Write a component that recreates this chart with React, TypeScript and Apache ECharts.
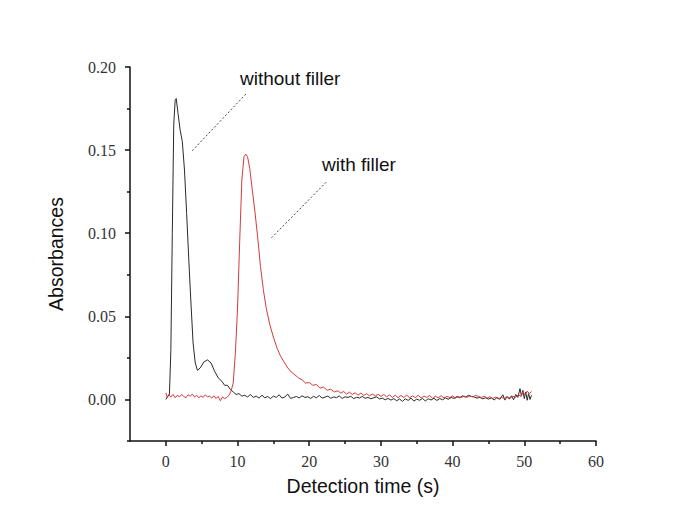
import React, { useEffect, useRef } from "react";
import * as echarts from "echarts";

const xLabels = [0, 10, 20, 30, 40, 50, 60];
const xMinor = [5, 15, 25, 35, 45, 55];
const yLabels = [0, 0.05, 0.1, 0.15, 0.2];
const yMinor = [-0.025, 0.025, 0.075, 0.125, 0.175];

const withoutFiller: [number, number][] = [
  [0, 0.0], [0.3, 0.002], [0.5, 0.003], [0.7, 0.03], [0.9, 0.1], [1.1, 0.165], [1.3, 0.18], [1.45, 0.181],
  [1.7, 0.172], [2.0, 0.162], [2.3, 0.155], [2.6, 0.138], [2.9, 0.112], [3.2, 0.084], [3.5, 0.058],
  [3.8, 0.034], [4.1, 0.022], [4.4, 0.0175], [4.8, 0.019], [5.3, 0.0225], [5.8, 0.0238], [6.3, 0.022],
  [6.8, 0.017], [7.3, 0.013], [7.8, 0.011], [8.2, 0.0085], [8.6, 0.0085], [9.0, 0.006], [9.4, 0.0045],
  [9.8, 0.003], [10.2, 0.0035], [10.6, 0.002], [11.0, 0.0025], [11.4, 0.0015], [11.8, 0.003], [12.2, 0.0012],
  [12.6, 0.002], [13.0, 0.0008], [13.4, 0.0025], [13.8, 0.001], [14.2, 0.0018], [14.6, 0.0005], [15.0, 0.002],
  [15.4, 0.0012], [15.8, 0.0028], [16.2, 0.0008], [16.6, 0.0015], [17.0, 0.0032], [17.4, 0.0006], [17.8, 0.0012],
  [18.2, 0.0018], [18.6, 0.0009], [19.0, 0.0022], [19.4, 0.0012], [19.8, 0.0016], [20.2, 0.0006], [20.6, 0.0019],
  [21.0, 0.001], [21.4, 0.0024], [21.8, 0.0008], [22.2, 0.0014], [22.6, 0.002], [23.0, 0.0007], [23.4, 0.0015],
  [23.8, 0.0011], [24.2, 0.0021], [24.6, 0.0006], [25.0, 0.0016], [25.4, 0.0012], [25.8, 0.0019], [26.2, 0.0005],
  [26.6, 0.0013], [27.0, 0.0009], [27.4, 0.0018], [27.8, 0.0007], [28.2, 0.0012], [28.6, 0.0004], [29.0, 0.001],
  [29.4, 0.0015], [29.8, 0.0003], [30.2, 0.0008], [30.6, -0.0002], [31.0, 0.0006], [31.4, -0.0004], [31.8, 0.0005],
  [32.2, -0.0008], [32.6, 0.0003], [33.0, -0.0012], [33.4, 0.0004], [33.8, -0.0006], [34.2, 0.0008], [34.6, -0.001],
  [35.0, 0.0002], [35.4, -0.0005], [35.8, 0.0006], [36.2, -0.0009], [36.6, 0.0004], [37.0, -0.0003], [37.4, 0.0007],
  [37.8, -0.0006], [38.2, 0.0005], [38.6, -0.0002], [39.0, 0.0009], [39.4, 0.0001], [39.8, 0.0012], [40.2, 0.0006],
  [40.6, 0.0018], [41.0, 0.001], [41.4, 0.0022], [41.8, 0.0014], [42.2, 0.0025], [42.6, 0.0018], [43.0, 0.0015],
  [43.4, 0.0008], [43.8, 0.0012], [44.2, 0.0004], [44.6, 0.001], [45.0, 0.0002], [45.4, 0.0009], [45.8, -0.0003],
  [46.2, 0.0012], [46.6, 0.0001], [47.0, 0.0028], [47.3, -0.0004], [47.6, 0.0018], [47.9, 0.0002], [48.2, 0.0022],
  [48.5, -0.0002], [48.8, 0.003], [49.1, 0.0012], [49.4, 0.0065], [49.6, 0.002], [49.8, 0.0055], [50.0, 0.0005],
  [50.2, 0.0045], [50.4, -0.0005], [50.6, 0.0035], [50.8, 0.0], [51.0, 0.0025],
];

const withFiller: [number, number][] = [
  [0, 0.004], [0.2, 0.001], [0.4, 0.003], [0.7, 0.0015], [1.0, 0.003], [1.3, 0.001], [1.6, 0.0025], [1.9, 0.0015],
  [2.2, 0.003], [2.5, 0.0018], [2.8, 0.001], [3.1, 0.0028], [3.4, 0.002], [3.7, 0.0032], [4.0, 0.0015], [4.3, 0.0025],
  [4.6, 0.001], [4.9, 0.0022], [5.2, 0.0012], [5.5, 0.0028], [5.8, 0.0015], [6.1, 0.002], [6.4, 0.0008], [6.7, 0.0022],
  [7.0, 0.0005], [7.3, 0.0018], [7.6, -0.0008], [7.9, 0.0015], [8.2, 0.0005], [8.5, 0.0012], [8.8, 0.0025], [9.1, 0.005],
  [9.4, 0.01], [9.7, 0.028], [10.0, 0.055], [10.3, 0.095], [10.6, 0.132], [10.9, 0.146], [11.15, 0.1476], [11.4, 0.146],
  [11.7, 0.139], [12.0, 0.128], [12.4, 0.114], [12.8, 0.098], [13.2, 0.08], [13.6, 0.066], [14.0, 0.055], [14.5, 0.045],
  [15.0, 0.0375], [15.5, 0.031], [16.0, 0.026], [16.5, 0.0225], [17.0, 0.019], [17.5, 0.0165], [18.0, 0.0148],
  [18.5, 0.013], [19.0, 0.0118], [19.5, 0.0098], [20.0, 0.0102], [20.5, 0.0085], [21.0, 0.009], [21.5, 0.0068],
  [22.0, 0.0075], [22.5, 0.0055], [23.0, 0.0062], [23.5, 0.0045], [24.0, 0.0052], [24.4, 0.0038], [24.8, 0.0048],
  [25.2, 0.0032], [25.6, 0.0044], [26.0, 0.003], [26.4, 0.004], [26.8, 0.0026], [27.2, 0.0038], [27.6, 0.0024],
  [28.0, 0.0035], [28.4, 0.0022], [28.8, 0.0033], [29.2, 0.002], [29.6, 0.0031], [30.0, 0.0018], [30.4, 0.003],
  [30.8, 0.0015], [31.2, 0.0028], [31.6, 0.0012], [32.0, 0.0026], [32.4, 0.001], [32.8, 0.0024], [33.2, 0.0012],
  [33.6, 0.0027], [34.0, 0.0009], [34.4, 0.0022], [34.8, 0.0011], [35.2, 0.0025], [35.6, 0.0008], [36.0, 0.002],
  [36.4, 0.0012], [36.8, 0.0024], [37.2, 0.0006], [37.6, 0.0019], [38.0, 0.001], [38.4, 0.0023], [38.8, 0.0009],
  [39.2, 0.0018], [39.6, 0.0012], [40.0, 0.0022], [40.4, 0.0008], [40.8, 0.0018], [41.2, 0.0011], [41.6, 0.002],
  [42.0, 0.0013], [42.4, 0.0021], [42.8, 0.0016], [43.2, 0.0024], [43.6, 0.0018], [44.0, 0.0012], [44.4, 0.0019],
  [44.8, 0.0008], [45.2, 0.0016], [45.6, 0.0006], [46.0, 0.0014], [46.4, 0.0004], [46.8, 0.0013], [47.2, 0.0006],
  [47.6, 0.0016], [48.0, 0.0008], [48.4, 0.002], [48.8, 0.0012], [49.2, 0.003], [49.5, 0.0018], [49.8, 0.0045],
  [50.1, 0.0028], [50.4, 0.005], [50.7, 0.0035], [51.0, 0.0048],
];

// annotation leader lines in data coordinates
const leaderWithout: [number, number][] = [[11.16, 0.1837], [3.63, 0.1494]];
const leaderWith: [number, number][] = [[22.36, 0.1307], [14.55, 0.0964]];

const serifFont = "'Liberation Serif', 'DejaVu Serif', serif";
const sansFont = "'Liberation Sans', Arial, sans-serif";

export default function App() {
  const ref = useRef<HTMLDivElement>(null);
  useEffect(() => {
    if (!ref.current) return;
    const chart = echarts.init(ref.current, undefined, { renderer: "svg" });
    const axisLine = { show: true, onZero: false, lineStyle: { color: "#111", width: 1.5 } };
    const option: any = {
      animation: false,
      backgroundColor: "#ffffff",
      grid: { left: 130, right: 79, top: 67, bottom: 78 },
      xAxis: [
        {
          type: "value",
          min: -5,
          max: 60,
          position: "bottom",
          name: "Detection time (s)",
          nameLocation: "middle",
          nameGap: 35,
          nameTextStyle: { fontFamily: sansFont, fontSize: 19.5, color: "#111" },
          axisLine,
          axisTick: { show: true, inside: false, length: 5, customValues: xLabels, lineStyle: { color: "#111", width: 1.5 } },
          axisLabel: { customValues: xLabels, fontFamily: serifFont, fontSize: 16, color: "#333", margin: 12 },
          splitLine: { show: false },
        },
        {
          type: "value",
          min: -5,
          max: 60,
          position: "bottom",
          axisLine: { show: false, onZero: false },
          axisTick: { show: true, length: 3, customValues: xMinor, lineStyle: { color: "#111", width: 1.5 } },
          axisLabel: { show: false },
          splitLine: { show: false },
        },
      ],
      yAxis: [
        {
          type: "value",
          min: -0.025,
          max: 0.2,
          position: "left",
          name: "Absorbances",
          nameLocation: "middle",
          nameGap: 64,
          nameRotate: 90,
          nameTextStyle: { fontFamily: sansFont, fontSize: 19.5, color: "#111" },
          axisLine,
          axisTick: { show: true, length: 5, customValues: yLabels, lineStyle: { color: "#111", width: 1.5 } },
          axisLabel: {
            customValues: yLabels,
            fontFamily: serifFont,
            fontSize: 16,
            color: "#333",
            margin: 14,
            formatter: (v: number) => v.toFixed(2),
          },
          splitLine: { show: false },
        },
        {
          type: "value",
          min: -0.025,
          max: 0.2,
          position: "left",
          axisLine: { show: false, onZero: false },
          axisTick: { show: true, length: 3, customValues: yMinor, lineStyle: { color: "#111", width: 1.5 } },
          axisLabel: { show: false },
          splitLine: { show: false },
        },
      ],
      series: [
        {
          name: "without filler",
          type: "line",
          data: withoutFiller,
          showSymbol: false,
          symbol: "none",
          lineStyle: { color: "#2a2a2a", width: 1 },
          markLine: {
            silent: true,
            symbol: "none",
            label: { show: false },
            lineStyle: { color: "#444", width: 1, type: [2, 2] },
            data: [[{ coord: leaderWithout[0] }, { coord: leaderWithout[1] }]],
          },
        },
        {
          name: "with filler",
          type: "line",
          data: withFiller,
          showSymbol: false,
          symbol: "none",
          lineStyle: { color: "#d63a3a", width: 1 },
          markLine: {
            silent: true,
            symbol: "none",
            label: { show: false },
            lineStyle: { color: "#444", width: 1, type: [2, 2] },
            data: [[{ coord: leaderWith[0] }, { coord: leaderWith[1] }]],
          },
        },
      ],
      graphic: [
        {
          type: "text",
          left: 240,
          top: 69,
          style: { text: "without filler", font: `19px ${sansFont}`, fill: "#111" },
        },
        {
          type: "text",
          left: 322,
          top: 155,
          style: { text: "with filler", font: `19px ${sansFont}`, fill: "#111" },
        },
      ],
    };
    chart.setOption(option);
    return () => chart.dispose();
  }, []);
  return (
    <div
      ref={ref}
      style={{ position: "fixed", left: 0, top: 0, width: 675, height: 519, background: "#fff" }}
    />
  );
}
